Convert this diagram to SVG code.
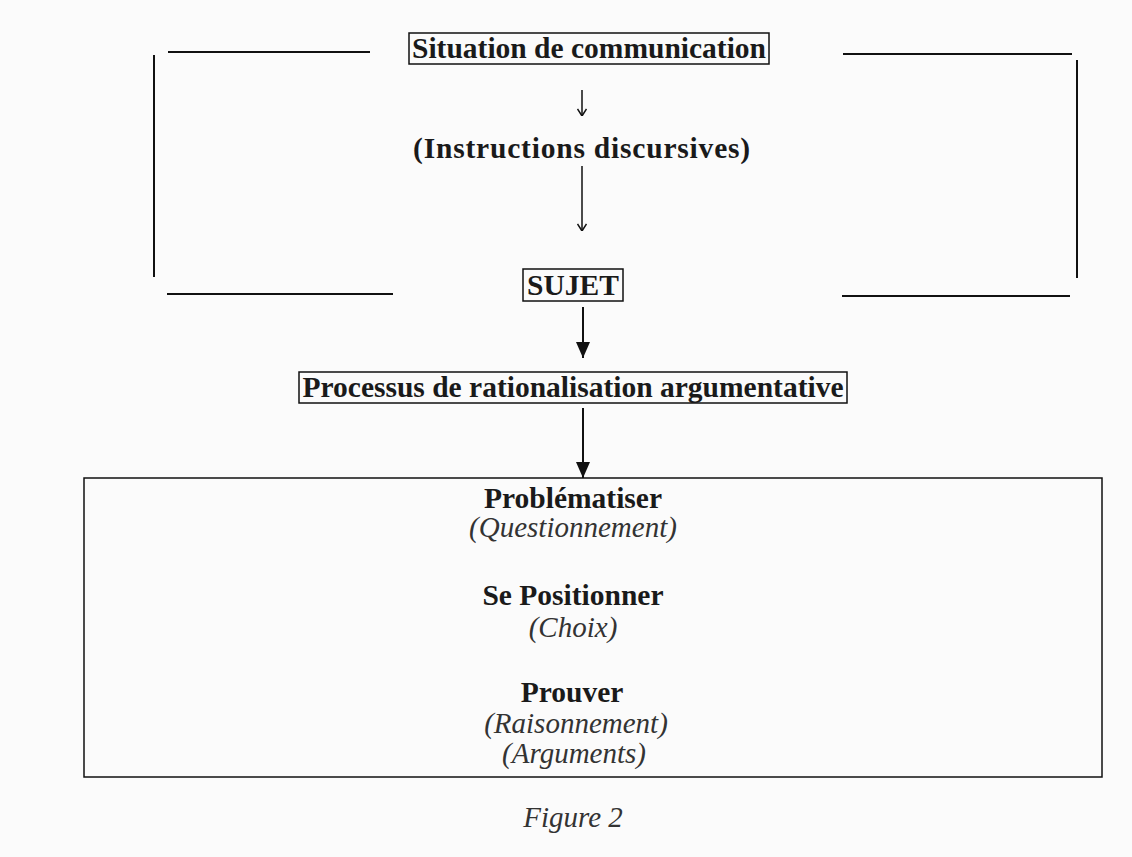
<svg xmlns="http://www.w3.org/2000/svg" width="1132" height="857" viewBox="0 0 1132 857">
<defs>
<style>
.ln{stroke:#111;stroke-width:2;fill:none}
.bx{stroke:#111;stroke-width:1.5;fill:none}
.b{font-family:"Liberation Serif","Times New Roman",serif;font-weight:bold;font-size:29.5px;fill:#1a1a1a;text-anchor:middle}
.i{font-family:"Liberation Serif","Times New Roman",serif;font-style:italic;font-size:29px;fill:#333;text-anchor:middle}
</style>
<marker id="thin" viewBox="0 0 10 10" refX="10" refY="5" markerWidth="10" markerHeight="10" markerUnits="userSpaceOnUse" orient="auto">
<path d="M3,0.5 L10,5 L3,9.5" fill="none" stroke="#111" stroke-width="1.5"/>
</marker>
<marker id="solid" viewBox="0 0 16 14" refX="16" refY="7" markerWidth="16" markerHeight="14" markerUnits="userSpaceOnUse" orient="auto">
<path d="M0,0 L16,7 L0,14 Z" fill="#111"/>
</marker>
</defs>
<rect x="0" y="0" width="1132" height="857" fill="#fbfbfb"/>
<g id="bracket">
<path class="ln" d="M168,52 H370"/>
<path class="ln" d="M154,55 V277"/>
<path class="ln" d="M167,294 H393"/>
<path class="ln" d="M843,54 H1072"/>
<path class="ln" d="M1077,60 V278"/>
<path class="ln" d="M842,296 H1070"/>
</g>
<g id="connectors">
<line x1="582" y1="90" x2="582" y2="116" stroke="#111" stroke-width="1.5" marker-end="url(#thin)"/>
<line x1="582" y1="166" x2="582" y2="231" stroke="#111" stroke-width="1.5" marker-end="url(#thin)"/>
<line x1="583" y1="307" x2="583" y2="358" stroke="#111" stroke-width="2" marker-end="url(#solid)"/>
<line x1="583" y1="408" x2="583" y2="478" stroke="#111" stroke-width="2" marker-end="url(#solid)"/>
</g>
<g id="situation">
<rect class="bx" x="409" y="33" width="360" height="31"/>
<text class="b" x="589" y="58">Situation de communication</text>
</g>
<g id="instructions">
<text class="b" x="582" y="158" letter-spacing="0.8">(Instructions discursives)</text>
</g>
<g id="sujet">
<rect class="bx" x="523" y="269" width="100" height="32"/>
<text class="b" x="573" y="295">SUJET</text>
</g>
<g id="processus">
<rect class="bx" x="299" y="372" width="548" height="31"/>
<text class="b" x="573" y="397">Processus de rationalisation argumentative</text>
</g>
<g id="etapes">
<rect class="bx" x="84" y="478" width="1018" height="299"/>
<text class="b" x="573" y="508">Problématiser</text>
<text class="i" x="573" y="537">(Questionnement)</text>
<text class="b" x="573" y="605">Se Positionner</text>
<text class="i" x="573" y="637">(Choix)</text>
<text class="b" x="572" y="702">Prouver</text>
<text class="i" x="576" y="733">(Raisonnement)</text>
<text class="i" x="574" y="763">(Arguments)</text>
</g>
<g id="caption">
<text class="i" x="573" y="827">Figure 2</text>
</g>
</svg>
